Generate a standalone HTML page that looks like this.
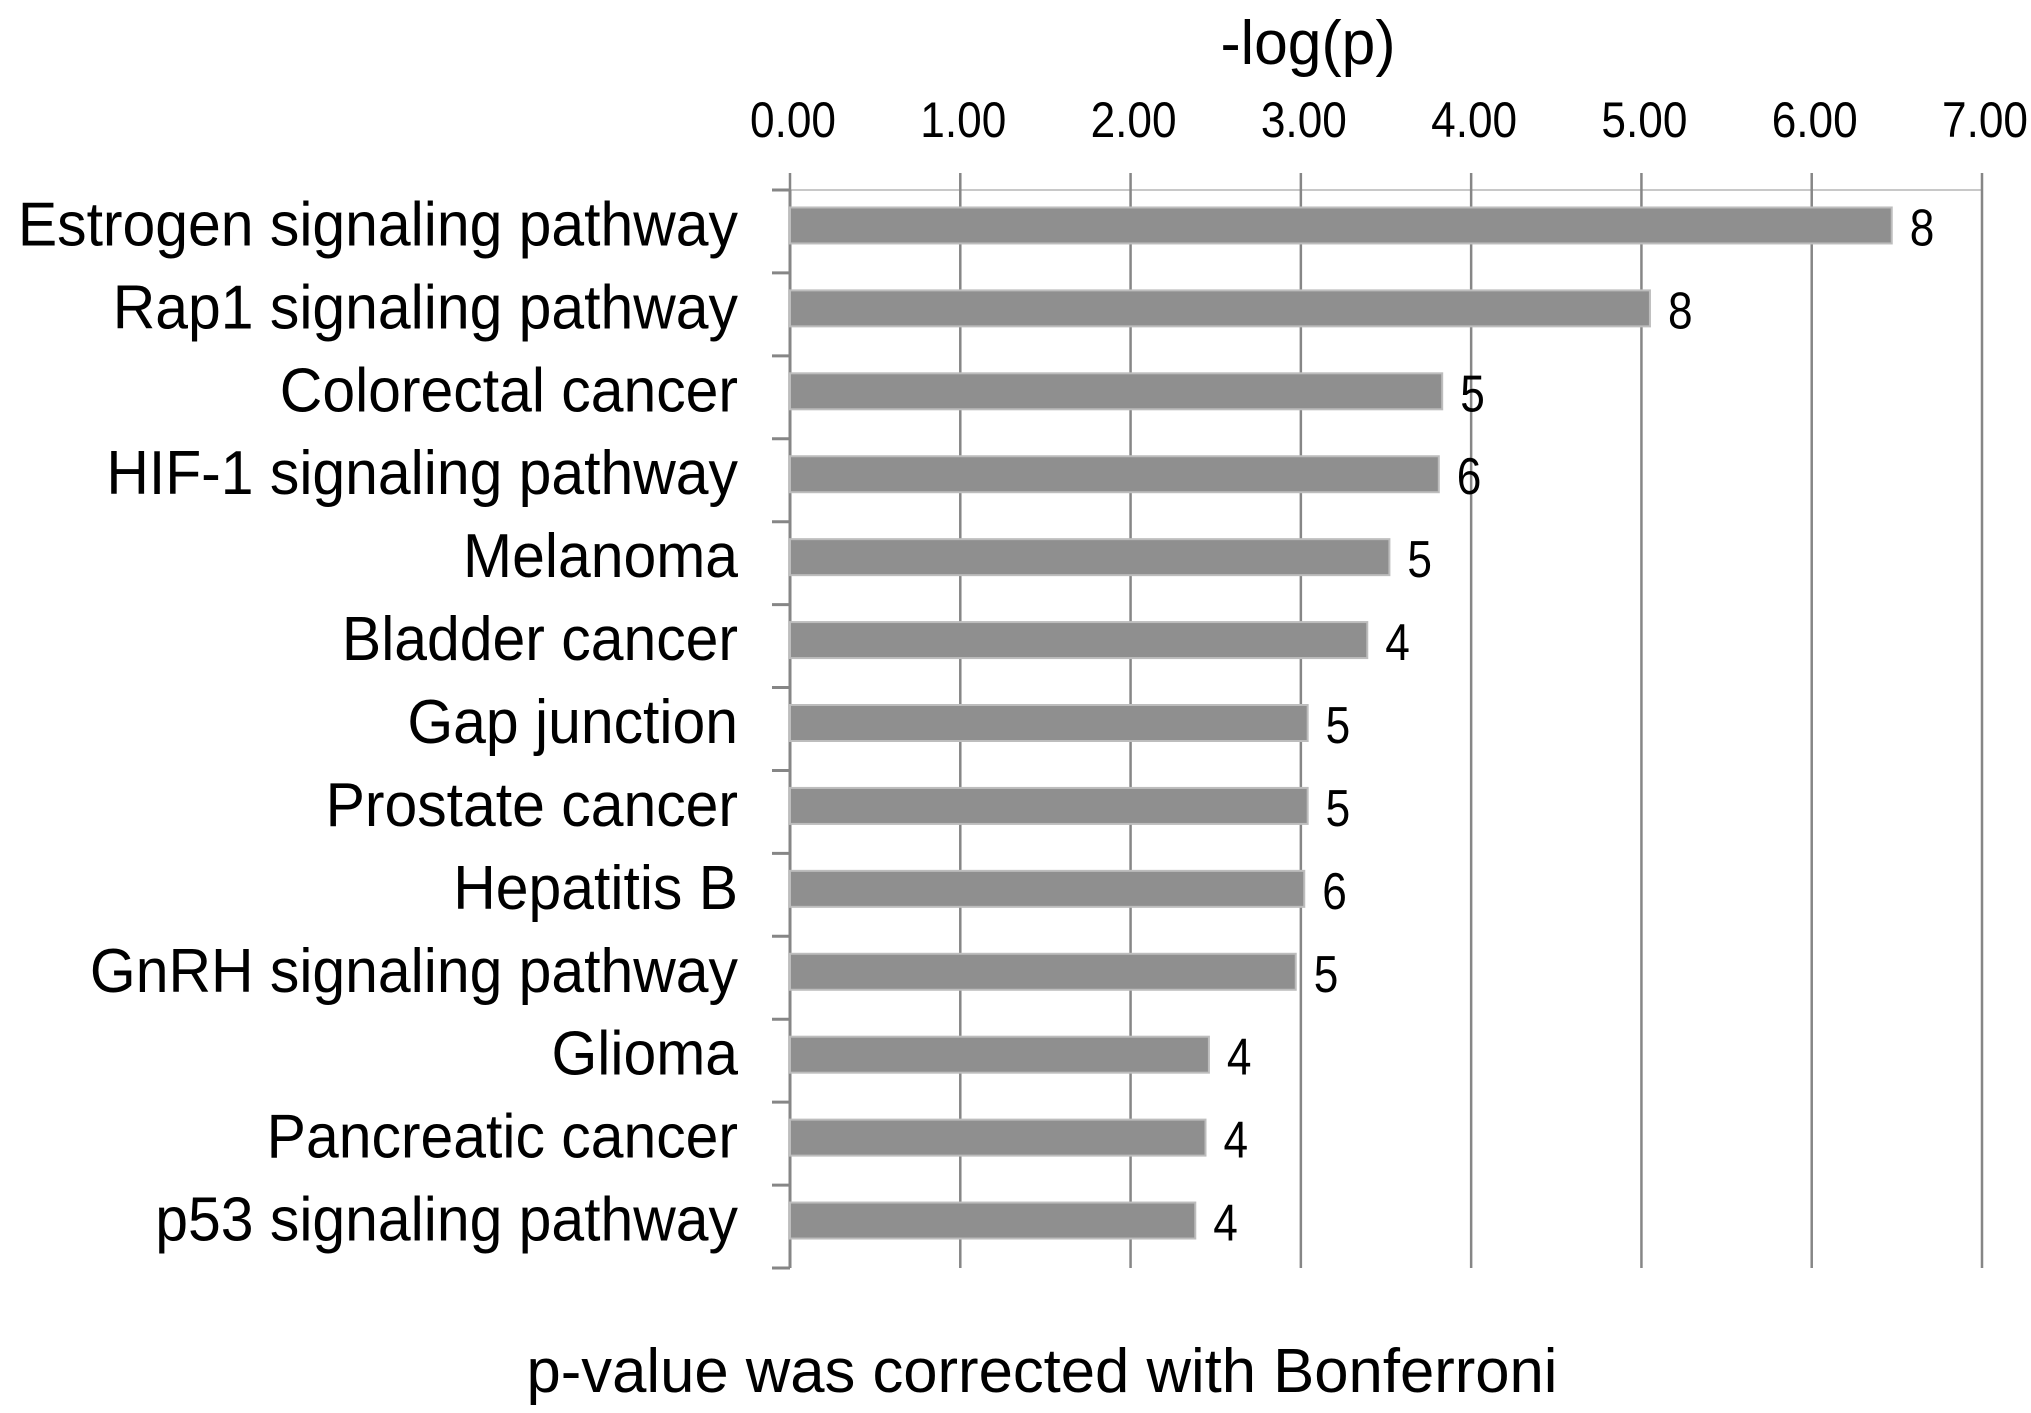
<!DOCTYPE html>
<html><head><meta charset="utf-8"><style>
html,body{margin:0;padding:0;background:#fff;}
svg{display:block;}
text{font-family:"Liberation Sans",sans-serif;fill:#000;}
</style></head><body>
<svg id="chart" width="2031" height="1413" viewBox="0 0 2031 1413" xmlns="http://www.w3.org/2000/svg">
<text x="1308" y="64" font-size="62" text-anchor="middle" textLength="175" lengthAdjust="spacingAndGlyphs">-log(p)</text>
<text x="1042" y="1392" font-size="62" text-anchor="middle" textLength="1031" lengthAdjust="spacingAndGlyphs">p-value was corrected with Bonferroni</text>
<g id="grid"></g><g id="bars"></g><g id="labels"></g>
</svg>
<script>
const categories = ["Estrogen signaling pathway","Rap1 signaling pathway","Colorectal cancer","HIF-1 signaling pathway","Melanoma","Bladder cancer","Gap junction","Prostate cancer","Hepatitis B","GnRH signaling pathway","Glioma","Pancreatic cancer","p53 signaling pathway"];
const values = [6.47,5.05,3.83,3.81,3.52,3.39,3.04,3.04,3.02,2.97,2.46,2.44,2.38];
const counts = [8,8,5,6,5,4,5,5,6,5,4,4,4];
const ticks = [0,1,2,3,4,5,6,7];
const tickLabels = ["0.00","1.00","2.00","3.00","4.00","5.00","6.00","7.00"];

const NS="http://www.w3.org/2000/svg";
const X0=790, X1=1982, XMAX=7, Y0=190, Y1=1268;
const band=(Y1-Y0)/categories.length;
const xs=v=>X0+(X1-X0)*v/XMAX;
const ys=i=>Y0+band*i;
function mk(tag,attrs,parent,txt){const e=document.createElementNS(NS,tag);for(const k in attrs)e.setAttribute(k,attrs[k]);if(txt!==undefined)e.textContent=txt;parent.appendChild(e);return e;}
const gridG=document.getElementById('grid'),barsG=document.getElementById('bars'),labelsG=document.getElementById('labels');

const topBorder=mk('line',{x1:X0,x2:X1,y1:Y0,y2:Y0,stroke:'#c8c8c8','stroke-width':2},gridG);


ticks.forEach((t,i)=>{
  const g=mk('line',{x1:xs(t),x2:xs(t),y1:173,y2:Y1,stroke:'#868686','stroke-width':2.5},gridG);
  
  
  const l=mk('text',{x:xs(t)+3,y:137,'font-size':50,'text-anchor':'middle',textLength:86,lengthAdjust:'spacingAndGlyphs'},labelsG,tickLabels[i]);
  
  
});
for(let i=0;i<=categories.length;i++){
  const tk=mk('line',{x1:772,x2:X0,y1:ys(i),y2:ys(i),stroke:'#868686','stroke-width':3},gridG);
  
  
}
categories.forEach((c,i)=>{
  const cy=ys(i)+band/2-6;
  const bh=36;
  const r=mk('rect',{x:X0,y:cy-bh/2,width:xs(values[i])-X0,height:bh,fill:'#8f8f8f',stroke:'#bdbdbd','stroke-width':2},barsG);
  
  
  const t=mk('text',{x:0,y:0,'font-size':62,'text-anchor':'end',transform:'translate(738,'+(cy+20)+') scale(0.95,1)'},labelsG,c);
  
  
  const v=mk('text',{x:0,y:0,'font-size':52,transform:'translate('+(xs(values[i])+18)+','+(cy+20)+') scale(0.85,1)'},labelsG,String(counts[i]));
  
  
});
const axisLine=mk('line',{x1:X0,x2:X0,y1:Y0,y2:Y1,stroke:'#868686','stroke-width':3},gridG);


</script>
</body></html>
